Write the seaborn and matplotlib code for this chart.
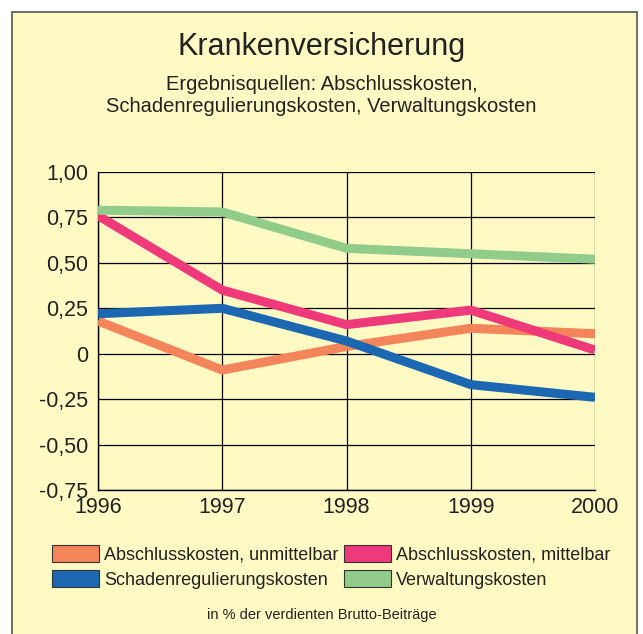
import matplotlib

matplotlib.use("Agg")

import matplotlib.pyplot as plt
import pandas as pd
import seaborn as sns
from matplotlib.patches import Patch, Rectangle
from matplotlib.ticker import FixedLocator, FuncFormatter

YEARS = [1996, 1997, 1998, 1999, 2000]
ABSCHLUSS_UNMITTELBAR = [0.18, -0.09, 0.04, 0.14, 0.11]
ABSCHLUSS_MITTELBAR = [0.76, 0.35, 0.16, 0.24, 0.02]
SCHADENREGULIERUNG = [0.22, 0.25, 0.07, -0.17, -0.24]
VERWALTUNG = [0.79, 0.78, 0.58, 0.55, 0.52]

SERIES_NAMES = [
    "Abschlusskosten, unmittelbar",
    "Abschlusskosten, mittelbar",
    "Schadenregulierungskosten",
    "Verwaltungskosten",
]
COLORS = ["#F4855A", "#EE3A7A", "#1B67B2", "#91CC8B"]
Y_TICKS = [-0.75, -0.5, -0.25, 0, 0.25, 0.5, 0.75, 1.0]

BG = "#FFF9C4"
TEXT = "#222222"

sns.set_theme(style="white")
plt.rcParams["font.family"] = ["Liberation Sans", "DejaVu Sans"]

df = pd.DataFrame({
    "Jahr": YEARS * 4,
    "Wert": ABSCHLUSS_UNMITTELBAR + ABSCHLUSS_MITTELBAR + SCHADENREGULIERUNG + VERWALTUNG,
    "Serie": [n for n in SERIES_NAMES for _ in YEARS],
})

fig = plt.figure(figsize=(6.43, 6.34), dpi=100, facecolor="white")
W, H = 643, 634

# yellow frame behind everything
fig.patches.append(Rectangle((12 / W, -0.01), 625 / W, 1 - 12 / H + 0.01,
                             transform=fig.transFigure, facecolor=BG,
                             edgecolor="#555555", linewidth=1.2, zorder=-10))

ax = fig.add_axes([98 / W, 1 - 490 / H, 497 / W, 318 / H])
ax.set_facecolor(BG)

# draw in order so pink sits on top of orange like the reference
draw_order = [3, 2, 0, 1]
for i in draw_order:
    sub = df[df["Serie"] == SERIES_NAMES[i]]
    sns.lineplot(data=sub, x="Jahr", y="Wert", color=COLORS[i], linewidth=6.5,
                 ax=ax, legend=False, solid_capstyle="butt", solid_joinstyle="round",
                 zorder=3 + i)

ax.set_xlim(1996, 2000)
ax.set_ylim(-0.75, 1.0)
ax.xaxis.set_major_locator(FixedLocator(YEARS))
ax.yaxis.set_major_locator(FixedLocator(Y_TICKS))
ax.yaxis.set_major_formatter(FuncFormatter(
    lambda v, p: "0" if abs(v) < 1e-9 else f"{v:.2f}".replace(".", ",")))
ax.grid(True, color="black", linewidth=0.9)
ax.set_axisbelow(True)
for side in ["top", "right"]:
    ax.spines[side].set_visible(False)
for side in ["left", "bottom"]:
    ax.spines[side].set_color("black")
    ax.spines[side].set_linewidth(1.0)
ax.tick_params(axis="both", direction="out", width=1.0, color="black",
               labelsize=15.5, labelcolor=TEXT)
ax.tick_params(axis="y", length=6, pad=1)
ax.tick_params(axis="x", length=3, pad=2)
ax.set_xlabel("")
ax.set_ylabel("")

fig.text(0.5, 1 - 47 / H, "Krankenversicherung", ha="center", va="center",
         fontsize=22, color=TEXT)
fig.text(0.5, 1 - 84 / H, "Ergebnisquellen: Abschlusskosten,", ha="center",
         va="center", fontsize=14.5, color=TEXT)
fig.text(0.5, 1 - 107 / H, "Schadenregulierungskosten, Verwaltungskosten",
         ha="center", va="center", fontsize=14.5, color=TEXT)

order = [0, 2, 1, 3]
handles = [Patch(facecolor=COLORS[i], edgecolor="#333333", linewidth=0.8) for i in order]
labels = [SERIES_NAMES[i] for i in order]
fig.legend(handles, labels, ncol=2, loc="center", bbox_to_anchor=(0.515, 1 - 567 / H),
           frameon=False, fontsize=13, handlelength=2.6, handleheight=1.1,
           handletextpad=0.3, columnspacing=0.3, labelspacing=0.35,
           borderpad=0, labelcolor=TEXT)

fig.text(0.5, 1 - 615 / H, "in % der verdienten Brutto-Beiträge", ha="center",
         va="center", fontsize=10.5, color=TEXT)

fig.savefig("out.png", dpi=100, facecolor="white")
